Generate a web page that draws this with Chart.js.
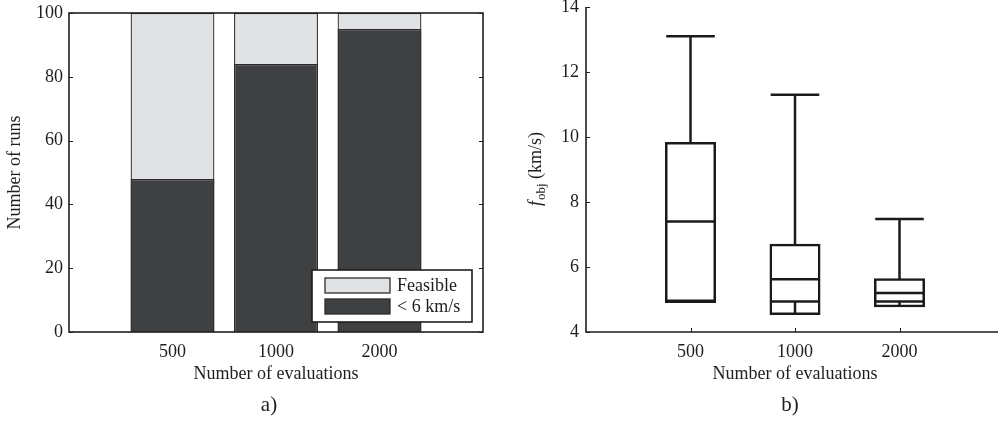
<!DOCTYPE html>
<html>
<head>
<meta charset="utf-8">
<script src="https://cdn.jsdelivr.net/npm/chart.js@4.4.1/dist/chart.umd.min.js"></script>
<style>
    body { margin: 0; background: #fff; }
    #wrap { position: relative; width: 998px; height: 421px; overflow: hidden; }
    .panel { position: absolute; top: 0; height: 421px; }
    .panel-label {
        position: absolute; top: 392px; width: 40px; margin-left: -20px;
        text-align: center; font: 21px 'Liberation Serif', 'Times New Roman', serif; color: #1e1e1e;
    }
</style>
</head>
<body>
<div id="wrap">
    <div class="panel" style="left:0; width:500px"><canvas id="runsChart"></canvas></div>
    <div class="panel" style="left:500px; width:510px"><canvas id="objChart"></canvas></div>
    <div class="panel-label" style="left:269px">a)</div>
    <div class="panel-label" style="left:790px">b)</div>
</div>
<script>
    const evaluations = ['500', '1000', '2000'];

    // panel a: runs out of 100
    const feasibleRuns = [100, 100, 100];
    const fastRuns = [48, 84, 95];

    // panel b: f_obj spread (km/s)
    const whiskerLow = [4.93, 4.56, 4.80];
    const quartileLow = [4.96, 4.94, 4.94];
    const medians = [7.40, 5.62, 5.20];
    const quartileHigh = [9.81, 6.68, 5.62];
    const whiskerHigh = [13.10, 11.30, 7.48];

    const serif = "'Liberation Serif', 'Times New Roman', serif";
    const ink = '#1e1e1e';
    Chart.defaults.font.family = serif;
    Chart.defaults.color = ink;

    function evalLabel(value) {
        return evaluations[value - 1] || '';
    }

    function fixWidth(w) {
        return scale => { scale.width = w; scale.paddingTop = 0; scale.paddingBottom = 0; };
    }

    function fixHeight(h) {
        return scale => { scale.height = h; scale.paddingLeft = 0; scale.paddingRight = 0; };
    }

    const framePlugin = {
        id: 'frame',
        afterDatasetsDraw(chart) {
            const { ctx, chartArea: a, scales: { y } } = chart;
            ctx.save();
            ctx.strokeStyle = ink;
            ctx.lineWidth = 1.6;
            ctx.strokeRect(a.left, a.top, a.right - a.left, a.bottom - a.top);
            ctx.lineWidth = 1;
            y.ticks.forEach(t => {
                const py = Math.round(y.getPixelForValue(t.value)) + 0.5;
                ctx.beginPath();
                ctx.moveTo(a.left, py); ctx.lineTo(a.left + 4, py);
                ctx.moveTo(a.right, py); ctx.lineTo(a.right - 4, py);
                ctx.stroke();
            });
            ctx.restore();
        }
    };

    const legendPlugin = {
        id: 'boxLegend',
        afterDraw(chart) {
            const { ctx, chartArea: a } = chart;
            const w = 160, h = 52;
            const left = a.right - 11 - w, top = a.bottom - 10 - h;
            const items = chart.data.datasets.slice().reverse();
            ctx.save();
            ctx.fillStyle = '#fff';
            ctx.fillRect(left, top, w, h);
            ctx.strokeStyle = ink;
            ctx.lineWidth = 1.6;
            ctx.strokeRect(left, top, w, h);
            ctx.font = '18px ' + serif;
            ctx.textBaseline = 'middle';
            items.forEach((ds, i) => {
                const sy = top + 8 + i * 21;
                ctx.fillStyle = ds.backgroundColor;
                ctx.fillRect(left + 13, sy, 65, 15);
                ctx.lineWidth = 1.3;
                ctx.strokeStyle = '#2b2b2d';
                ctx.strokeRect(left + 13, sy, 65, 15);
                ctx.fillStyle = ink;
                ctx.fillText(ds.label, left + 85, sy + 8);
            });
            ctx.restore();
        }
    };

    const axesPlugin = {
        id: 'openAxes',
        afterDatasetsDraw(chart) {
            const { ctx, chartArea: a, scales: { x, y } } = chart;
            ctx.save();
            ctx.strokeStyle = ink;
            ctx.lineWidth = 1.6;
            ctx.beginPath();
            ctx.moveTo(a.left, a.top);
            ctx.lineTo(a.left, a.bottom);
            ctx.lineTo(a.right, a.bottom);
            ctx.stroke();
            ctx.lineWidth = 1;
            y.ticks.forEach(t => {
                const py = Math.round(y.getPixelForValue(t.value)) + 0.5;
                ctx.beginPath();
                ctx.moveTo(a.left, py); ctx.lineTo(a.left + 4, py);
                ctx.stroke();
            });
            x.ticks.forEach(t => {
                if (!evalLabel(t.value)) return;
                const px = Math.round(x.getPixelForValue(t.value)) + 0.5;
                ctx.beginPath();
                ctx.moveTo(px, a.bottom); ctx.lineTo(px, a.bottom - 4);
                ctx.stroke();
            });

            // y title with subscript
            ctx.translate(35, (a.top + a.bottom) / 2);
            ctx.rotate(-Math.PI / 2);
            ctx.fillStyle = ink;
            ctx.textBaseline = 'alphabetic';
            const parts = [
                { t: 'f', f: 'italic 18px ' + serif, dy: 0 },
                { t: 'obj', f: '13px ' + serif, dy: 4 },
                { t: ' (km/s)', f: '18px ' + serif, dy: 0 }
            ];
            let total = 0;
            parts.forEach(p => { ctx.font = p.f; p.w = ctx.measureText(p.t).width; total += p.w; });
            let cx = -total / 2;
            parts.forEach(p => { ctx.font = p.f; ctx.fillText(p.t, cx, 6 + p.dy); cx += p.w + (p.t === 'f' ? 1 : 0); });
            ctx.restore();
        }
    };

    const boxPlugin = {
        id: 'boxLines',
        afterDatasetsDraw(chart) {
            const { ctx, scales: { y } } = chart;
            const meta = chart.getDatasetMeta(0);
            ctx.save();
            ctx.strokeStyle = '#1a1a1a';
            ctx.lineWidth = 2.5;
            meta.data.forEach((bar, i) => {
                const cx = bar.x, half = bar.width / 2;
                const hline = v => {
                    const py = y.getPixelForValue(v);
                    ctx.beginPath(); ctx.moveTo(cx - half, py); ctx.lineTo(cx + half, py); ctx.stroke();
                };
                const vline = (v0, v1) => {
                    ctx.beginPath();
                    ctx.moveTo(cx, y.getPixelForValue(v0));
                    ctx.lineTo(cx, y.getPixelForValue(v1));
                    ctx.stroke();
                };
                hline(quartileLow[i]);
                hline(medians[i]);
                vline(whiskerLow[i], quartileLow[i]);
                vline(quartileHigh[i], whiskerHigh[i]);
                hline(whiskerHigh[i]);
            });
            ctx.restore();
        }
    };

    function renderRunsChart() {
        new Chart(document.getElementById('runsChart'), {
            type: 'bar',
            data: {
                datasets: [{
                    label: '< 6 km/s',
                    data: fastRuns.map((v, i) => ({ x: i + 1, y: v })),
                    backgroundColor: '#3f4042',
                    borderColor: '#2b2b2d',
                    borderWidth: 1.3,
                    categoryPercentage: 0.81,
                    barPercentage: 1
                }, {
                    label: 'Feasible',
                    data: feasibleRuns.map((v, i) => ({ x: i + 1, y: v })),
                    backgroundColor: '#e1e2e4',
                    borderColor: '#2b2b2d',
                    borderWidth: 1.3,
                    categoryPercentage: 0.81,
                    barPercentage: 1
                }]
            },
            options: {
                responsive: true,
                maintainAspectRatio: false,
                animation: false,
                layout: { padding: { top: 13, right: 17, left: 0, bottom: 0 } },
                plugins: { legend: { display: false }, tooltip: { enabled: false } },
                scales: {
                    x: {
                        type: 'linear', min: 0, max: 4, offset: false, stacked: true,
                        grid: { display: false, drawTicks: false }, border: { display: false },
                        ticks: { stepSize: 1, autoSkip: false, maxRotation: 0, padding: 9,
                            font: { size: 18 }, callback: evalLabel },
                        title: { display: true, text: 'Number of evaluations', font: { size: 18 },
                            padding: { bottom: 36 } },
                        afterFit: fixHeight(89)
                    },
                    y: {
                        min: 0, max: 100, stacked: false,
                        grid: { display: false, drawTicks: false }, border: { display: false },
                        ticks: { stepSize: 20, padding: 6, font: { size: 18 } },
                        title: { display: true, text: 'Number of runs', font: { size: 18 },
                            padding: { top: 4 } },
                        afterFit: fixWidth(69)
                    }
                }
            },
            plugins: [framePlugin, legendPlugin]
        });
    }

    function renderObjChart() {
        new Chart(document.getElementById('objChart'), {
            type: 'bar',
            data: {
                datasets: [{
                    label: 'f_obj',
                    data: whiskerLow.map((v, i) => ({ x: i + 1, y: [v, quartileHigh[i]] })),
                    backgroundColor: '#fff',
                    borderColor: '#1a1a1a',
                    borderWidth: 2.5,
                    borderSkipped: false,
                    inflateAmount: 1.2,
                    categoryPercentage: 0.465,
                    barPercentage: 1
                }]
            },
            options: {
                responsive: true,
                maintainAspectRatio: false,
                animation: false,
                layout: { padding: { top: 7, right: 6, left: 0, bottom: 0 } },
                plugins: { legend: { display: false }, tooltip: { enabled: false } },
                scales: {
                    x: {
                        type: 'linear', min: 0, max: 4, offset: false,
                        grid: { display: false, drawTicks: false }, border: { display: false },
                        ticks: { stepSize: 1, autoSkip: false, maxRotation: 0, padding: 9,
                            font: { size: 18 }, callback: evalLabel },
                        title: { display: true, text: 'Number of evaluations', font: { size: 18 },
                            padding: { bottom: 36 } },
                        afterFit: fixHeight(89)
                    },
                    y: {
                        min: 4, max: 14,
                        grid: { display: false, drawTicks: false }, border: { display: false },
                        ticks: { stepSize: 2, padding: 7, font: { size: 18 } },
                        afterFit: fixWidth(86)
                    }
                }
            },
            plugins: [axesPlugin, boxPlugin]
        });
    }

    document.addEventListener('DOMContentLoaded', () => {
        renderRunsChart();
        renderObjChart();
    });
</script>
</body>
</html>
